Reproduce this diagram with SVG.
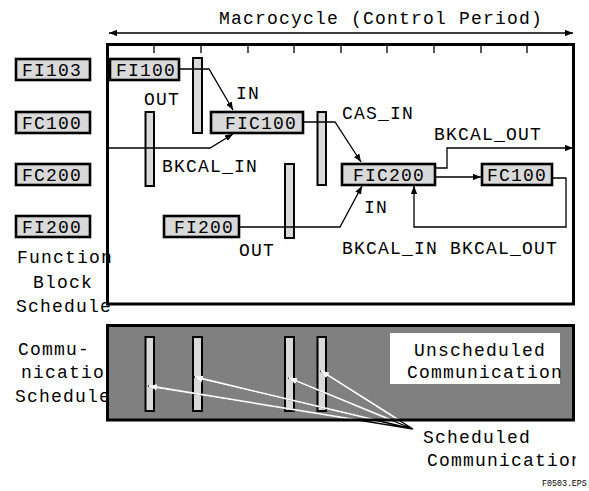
<svg xmlns="http://www.w3.org/2000/svg" width="589" height="491" viewBox="0 0 589 491">
<defs>
<style>
text{font-family:"Liberation Mono","DejaVu Sans Mono",monospace;font-size:18px;letter-spacing:1.2px;fill:#000}
.blk{fill:#d9d9d9;stroke:#000;stroke-width:2.6}
.bar{fill:#d9d9d9;stroke:#000;stroke-width:2}
.ln{fill:none;stroke:#000;stroke-width:1.3}
.wl{fill:none;stroke:#fff;stroke-width:1.8}
.tick{stroke:#000;stroke-width:1.3}
.small{font-size:8.3px;letter-spacing:0}
</style>
<marker id="ah" viewBox="0 0 10 8" refX="10" refY="4" markerWidth="8" markerHeight="6.4" markerUnits="userSpaceOnUse" orient="auto-start-reverse"><path d="M0,0 L10,4 L0,8 Z" fill="#000"/></marker>
<marker id="wh" viewBox="0 0 10 8" refX="10" refY="4" markerWidth="8" markerHeight="6.4" markerUnits="userSpaceOnUse" orient="auto"><path d="M0,0 L10,4 L0,8 Z" fill="#fff"/></marker>
<clipPath id="inner"><rect x="109" y="327" width="463" height="91.5"/></clipPath>
<clipPath id="edge"><rect x="0" y="0" width="576" height="491"/></clipPath>
</defs>
<rect width="589" height="491" fill="#fff"/>

<!-- Macrocycle -->
<g id="macrocycle">
<text x="219" y="24">Macrocycle (Control Period)</text>
<line class="ln" x1="109" y1="33" x2="573" y2="33" marker-start="url(#ah)" marker-end="url(#ah)"/>
</g>

<!-- left labels -->
<g id="fb-label"><text x="17" y="263">Function</text><text x="33" y="288">Block</text><text x="16" y="312">Schedule</text></g>
<g id="comm-label"><text x="18" y="355">Commu-</text><text x="21" y="378">nication</text><text x="15" y="402">Schedule</text></g>

<!-- main box -->
<g id="fb-schedule">
<rect x="107.5" y="44.5" width="466" height="259.5" fill="none" stroke="#000" stroke-width="3"/>
<path class="tick" d="M154,44V53M201,44V53M248,44V53M294,44V53M341,44V53M387,44V53M434,44V53M481,44V53M527,44V53"/>
</g>

<!-- comm box -->
<g id="comm-schedule">
<rect x="107.5" y="325.5" width="466" height="94.5" fill="#808080" stroke="#000" stroke-width="3"/>
<rect class="bar" x="145.5" y="337" width="8.5" height="74"/>
<rect class="bar" x="193" y="337" width="9" height="74"/>
<rect class="bar" x="285" y="337" width="9" height="74"/>
<rect class="bar" x="317.5" y="337" width="8.5" height="74"/>
</g>
<g id="unscheduled">
<rect x="390" y="333" width="170" height="51" fill="#fff"/>
<text x="414" y="356">Unscheduled</text>
<text x="407" y="378">Communication</text>
</g>

<!-- left blocks -->
<g id="FI103"><rect class="blk" x="16" y="59" width="74" height="21"/><text x="22" y="76">FI103</text></g>
<g id="FC100-left"><rect class="blk" x="16" y="112" width="74" height="21"/><text x="22" y="129">FC100</text></g>
<g id="FC200"><rect class="blk" x="16" y="164" width="74" height="21"/><text x="22" y="181">FC200</text></g>
<g id="FI200-left"><rect class="blk" x="16" y="216" width="74" height="21"/><text x="22" y="233">FI200</text></g>

<!-- bars -->
<g id="bars">
<rect class="bar" x="193" y="58" width="9" height="75"/>
<rect class="bar" x="145.5" y="112" width="8.5" height="74"/>
<rect class="bar" x="285" y="164" width="9" height="74"/>
<rect class="bar" x="317.5" y="112" width="8.5" height="73"/>
</g>

<!-- connectors -->
<g id="connectors">
<polyline class="ln" points="179,69 209,69 233,110" marker-end="url(#ah)"/>
<polyline class="ln" points="109,148 210,148 233,134" marker-end="url(#ah)"/>
<polyline class="ln" points="303,122 335,122 361,162" marker-end="url(#ah)"/>
<polyline class="ln" points="239,227 340,227 362,186" marker-end="url(#ah)"/>
<polyline class="ln" points="435,168 447,168 447,148 573,148" marker-end="url(#ah)"/>
<polyline class="ln" points="435,177 481,177" marker-end="url(#ah)"/>
<polyline class="ln" points="552,178 566,178 566,227 414,227 414,186" marker-end="url(#ah)"/>
<g id="sched-lines">
<path class="ln" d="M413,429L148,386M413,429L194,377M413,429L288,378M413,429L320,371"/>
<g clip-path="url(#inner)">
<line class="wl" x1="413" y1="429" x2="149" y2="386" marker-end="url(#wh)"/>
<line class="wl" x1="413" y1="429" x2="195" y2="377" marker-end="url(#wh)"/>
<line class="wl" x1="413" y1="429" x2="289" y2="378" marker-end="url(#wh)"/>
<line class="wl" x1="413" y1="429" x2="321" y2="371" marker-end="url(#wh)"/>
</g>
</g>
</g>

<!-- inner blocks -->
<g id="FI100"><rect class="blk" x="110" y="59" width="69" height="21"/><text x="116" y="76">FI100</text></g>
<g id="FIC100"><rect class="blk" x="211" y="112" width="92" height="21"/><text x="225" y="129">FIC100</text></g>
<g id="FIC200"><rect class="blk" x="342" y="164" width="93" height="21"/><text x="353" y="181">FIC200</text></g>
<g id="FC100-right"><rect class="blk" x="482" y="164" width="70" height="21"/><text x="487" y="181">FC100</text></g>
<g id="FI200"><rect class="blk" x="164" y="216" width="75" height="21"/><text x="174" y="233">FI200</text></g>

<!-- labels -->
<g id="labels">
<text x="144" y="105">OUT</text>
<text x="236" y="99">IN</text>
<text x="162" y="172">BKCAL_IN</text>
<text x="342" y="119">CAS_IN</text>
<text x="434" y="140">BKCAL_OUT</text>
<text x="364" y="213">IN</text>
<text x="239" y="256">OUT</text>
<text x="342" y="254">BKCAL_IN BKCAL_OUT</text>
</g>
<g id="scheduled" clip-path="url(#edge)">
<text x="423" y="443">Scheduled</text>
<text x="427" y="466">Communication</text>
</g>
<text class="small" x="542" y="486">F0503.EPS</text>
</svg>
